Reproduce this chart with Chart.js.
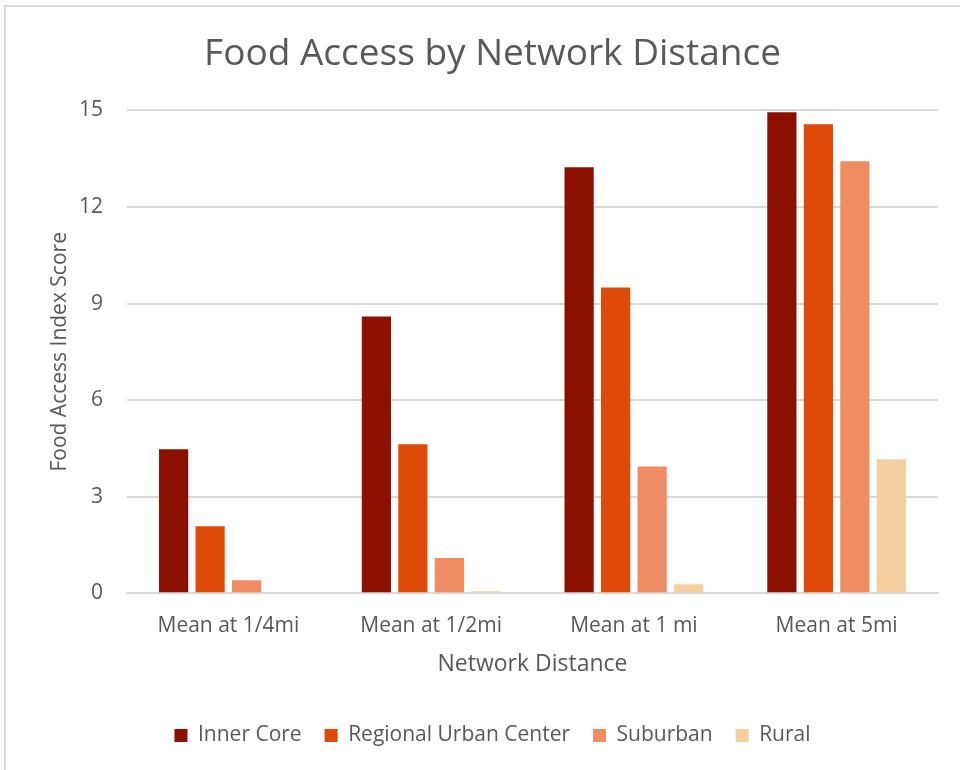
<!DOCTYPE html>
<html>
<head>
<meta charset="utf-8">
<title>Food Access by Network Distance</title>
<script src="https://cdn.jsdelivr.net/npm/chart.js@4.4.1/dist/chart.umd.min.js"></script>
<style>
    html, body { margin: 0; padding: 0; background: #fff; overflow: hidden; }
    #wrap { position: relative; width: 960px; height: 770px; }
    #frame {
        position: absolute; left: 4px; top: 5px; width: 1200px; height: 1200px;
        border: 2px solid #d9d9d9; pointer-events: none;
    }
</style>
</head>
<body>
<div id="wrap">
    <canvas id="foodChart" width="960" height="770"></canvas>
    <div id="frame"></div>
</div>
<script>
// =============================================
// DATA
// =============================================
const distances = ["Mean at 1/4mi", "Mean at 1/2mi", "Mean at 1 mi", "Mean at 5mi"];

const innerCore = [4.47, 8.60, 13.23, 14.94];
const regionalUrbanCenter = [2.08, 4.63, 9.50, 14.57];
const suburban = [0.40, 1.09, 3.94, 13.42];
const rural = [0, 0.06, 0.28, 4.16];

const yTicks = [0, 3, 6, 9, 12, 15];

// =============================================
// STYLE
// =============================================
const TEXT = "#595959";
const GRID = "#d9d9d9";
const FONT = "'Open Sans', sans-serif";

Chart.defaults.font.family = FONT;
Chart.defaults.color = TEXT;

function series(label, data, color) {
    return {
        label: label,
        data: data,
        backgroundColor: color,
        borderWidth: 0,
        categoryPercentage: 0.72,
        barPercentage: 0.8
    };
}

// =============================================
// CHART
// =============================================
new Chart(document.getElementById("foodChart"), {
    type: "bar",
    data: {
        labels: distances,
        datasets: [
            series("Inner Core", innerCore, "#8b1000"),
            series("Regional Urban Center", regionalUrbanCenter, "#e04a08"),
            series("Suburban", suburban, "#f08c62"),
            series("Rural", rural, "#f5d09e")
        ]
    },
    options: {
        responsive: false,
        animation: false,
        layout: { padding: { left: 47, right: 22, top: 0, bottom: 14 } },
        plugins: {
            title: {
                display: true,
                text: "Food Access by Network Distance",
                color: TEXT,
                font: { size: 37, weight: "normal" },
                padding: { top: 32, bottom: 34 }
            },
            legend: {
                position: "bottom",
                labels: {
                    color: TEXT,
                    font: { size: 21 },
                    boxWidth: 13,
                    boxHeight: 13,
                    padding: 23
                }
            },
            tooltip: { enabled: false }
        },
        scales: {
            x: {
                grid: { display: false },
                border: { color: GRID, width: 2 },
                ticks: { color: TEXT, font: { size: 21 }, padding: 12 },
                title: {
                    display: true,
                    text: "Network Distance",
                    color: TEXT,
                    font: { size: 23 },
                    padding: { top: 0, bottom: 24 }
                }
            },
            y: {
                min: 0,
                max: 15,
                afterBuildTicks: (scale) => { scale.ticks = yTicks.map(v => ({ value: v })); },
                afterFit: (scale) => { scale.width = 80; },
                grid: { color: GRID, lineWidth: 2, drawTicks: false },
                border: { display: false },
                ticks: { color: TEXT, font: { size: 21 }, padding: 24 },
                title: {
                    display: true,
                    text: "Food Access Index Score",
                    color: TEXT,
                    font: { size: 21 },
                    padding: { top: 0, bottom: 0 }
                }
            }
        }
    }
});
</script>
</body>
</html>
